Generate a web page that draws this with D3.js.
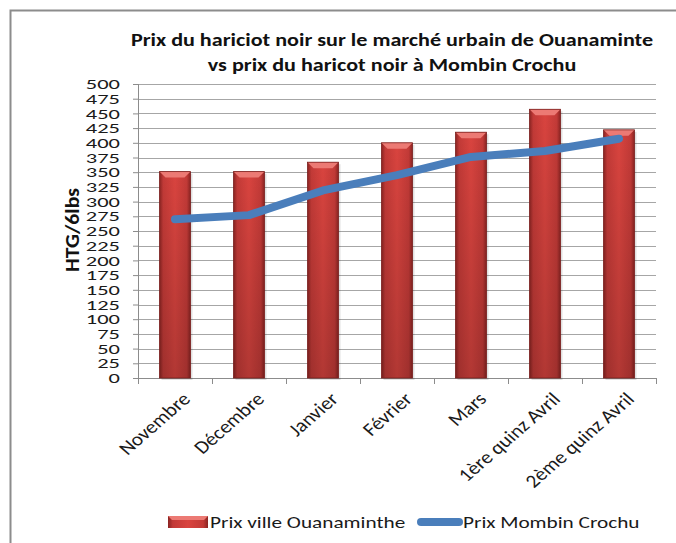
<!DOCTYPE html>
<meta charset="utf-8" />
<script src="https://d3js.org/d3.v7.min.js"></script>
<style>
  body { margin: 0; background: #fff; }
  svg { font-family: Carlito, Lato, "Open Sans", sans-serif; }
</style>
<body>
<div id="chart"></div>
</body>
<script>
  // data
  const categories = ["Novembre", "Décembre", "Janvier", "Février", "Mars", "1ère quinz Avril", "2ème quinz Avril"];
  const prixVille = [351, 351, 367, 400, 418, 457, 422];
  const prixMombin = [270, 277, 319, 345, 376, 386, 407];
  const yTicks = d3.range(0, 501, 25);
  const seriesNames = ["Prix ville Ouanaminthe", "Prix Mombin Crochu"];

  const W = 676, H = 543;
  const margin = {top: 84, right: 20, bottom: 165, left: 138};
  const width = 656 - margin.left, height = 378 - margin.top;
  const sx = 1.25; // the original picture is stretched sideways

  const root = d3.select("#chart").append("svg")
      .attr("width", W)
      .attr("height", H);

  // outer frame (left and top only show)
  root.append("path")
      .attr("d", "M10.5," + H + " V10.5 H" + W)
      .attr("fill", "none")
      .attr("stroke", "#8c8c8c")
      .attr("stroke-width", 2);

  const defs = root.append("defs");
  const gH = defs.append("linearGradient").attr("id", "barH")
      .attr("x1", "0").attr("x2", "1").attr("y1", "0").attr("y2", "0");
  [["0%", "#8a2422"], ["12%", "#c23a37"], ["50%", "#d9443f"], ["88%", "#c23a37"], ["100%", "#8a2422"]]
    .forEach(s => gH.append("stop").attr("offset", s[0]).attr("stop-color", s[1]));
  const gV = defs.append("linearGradient").attr("id", "barV")
      .attr("x1", "0").attr("x2", "0").attr("y1", "0").attr("y2", "1");
  gV.append("stop").attr("offset", "0%").attr("stop-color", "#000").attr("stop-opacity", 0);
  gV.append("stop").attr("offset", "100%").attr("stop-color", "#000").attr("stop-opacity", 0.18);

  const svg = root.append("g")
      .attr("transform", "translate(" + margin.left + "," + margin.top + ")");

  const x = d3.scaleBand().domain(categories).range([0, width]);
  const y = d3.scaleLinear().domain([0, 500]).range([height, 0]);

  // gridlines
  svg.append("g")
    .selectAll("line")
    .data(yTicks)
    .join("line")
      .attr("x1", 0).attr("x2", width)
      .attr("y1", d => Math.round(y(d)) + 0.5).attr("y2", d => Math.round(y(d)) + 0.5)
      .attr("stroke", "#a6a6a6");

  // y axis
  const yAxis = svg.append("g")
      .call(d3.axisLeft(y).tickValues(yTicks).tickSize(5).tickPadding(12));
  yAxis.select(".domain").attr("stroke", "#8c8c8c").attr("d", "M0.5,0V" + height);
  yAxis.selectAll(".tick line").attr("stroke", "#8c8c8c");
  yAxis.selectAll("text")
      .attr("x", 0)
      .attr("transform", "translate(-18,0) scale(1.55,1)")
      .attr("font-size", 14.5)
      .attr("fill", "#1a1a1a")
      .attr("font-family", "Carlito, Lato, sans-serif");

  // x axis
  const xAxis = svg.append("g")
      .attr("transform", "translate(0," + height + ")");
  xAxis.append("line").attr("x1", 0).attr("x2", width).attr("y1", 0.5).attr("y2", 0.5).attr("stroke", "#8c8c8c");
  xAxis.selectAll("line.tk")
    .data(d3.range(categories.length + 1))
    .join("line")
      .attr("class", "tk")
      .attr("x1", i => Math.round(i * x.step()) + 0.5).attr("x2", i => Math.round(i * x.step()) + 0.5)
      .attr("y1", 0).attr("y2", 6)
      .attr("stroke", "#8c8c8c");
  xAxis.selectAll("text")
    .data(categories)
    .join("text")
      .attr("transform", d => "translate(" + (x(d) + x.bandwidth() / 2 + 6) + ",13) scale(1.15,1) rotate(-45)")
      .attr("text-anchor", "end")
      .attr("dy", "0.7em")
      .attr("font-size", 18.5)
      .attr("fill", "#1a1a1a")
      .text(d => d);

  // bars
  const bw = 31;
  const bars = svg.append("g")
    .selectAll("g")
    .data(prixVille)
    .join("g")
      .attr("transform", (d, i) => "translate(" + (x(categories[i]) + x.bandwidth() / 2 - bw / 2) + ",0)");
  bars.append("rect")
      .attr("x", 2).attr("y", d => y(d) + 2)
      .attr("width", bw).attr("height", d => height - y(d))
      .attr("fill", "#000").attr("opacity", 0.12);
  bars.append("rect")
      .attr("y", d => y(d)).attr("width", bw).attr("height", d => height - y(d))
      .attr("fill", "url(#barH)");
  bars.append("rect")
      .attr("y", d => y(d)).attr("width", bw).attr("height", d => height - y(d))
      .attr("fill", "url(#barV)");
  bars.append("path")
      .attr("d", d => "M0," + y(d) + " H" + bw + " L" + (bw - 6) + "," + (y(d) + 6) + " H6 Z")
      .attr("fill", "#ec7a74");
  bars.append("rect")
      .attr("y", d => y(d)).attr("width", bw).attr("height", d => height - y(d))
      .attr("fill", "none").attr("stroke", "#7a1f1d").attr("stroke-width", 0.8);

  // line
  const line = d3.line()
      .x((d, i) => x(categories[i]) + x.bandwidth() / 2)
      .y(d => y(d));
  svg.append("path")
      .datum(prixMombin)
      .attr("d", line)
      .attr("fill", "none")
      .attr("stroke", "#4a7ebb")
      .attr("stroke-width", 8)
      .attr("stroke-linecap", "round")
      .attr("stroke-linejoin", "round");

  // y label
  root.append("text")
      .attr("transform", "translate(79,230) rotate(-90)")
      .attr("text-anchor", "middle")
      .attr("font-size", 20)
      .attr("font-weight", "bold")
      .attr("textLength", 84)
      .attr("lengthAdjust", "spacingAndGlyphs")
      .attr("fill", "#111")
      .text("HTG/6lbs");

  // title
  const title = root.append("text")
      .attr("transform", "translate(392,0) scale(" + 1.265 + ",1)")
      .attr("text-anchor", "middle")
      .attr("font-size", 17.5)
      .attr("font-weight", "bold")
      .attr("fill", "#111");
  title.append("tspan").attr("x", 0).attr("y", 46).text("Prix du hariciot noir sur le marché urbain de Ouanaminte");
  title.append("tspan").attr("x", 0).attr("y", 71).text("vs prix du haricot noir à Mombin Crochu");

  // legend
  const leg = root.append("g").attr("transform", "translate(0,522)");
  leg.append("rect").attr("x", 168).attr("y", -6).attr("width", 40).attr("height", 12).attr("fill", "url(#barH)");
  leg.append("path").attr("d", "M168,-6 H208 L204,-2 H172 Z").attr("fill", "#ec7a74");
  leg.append("text").attr("transform", "translate(210,0) scale(" + sx + ",1)")
      .attr("dy", "0.35em").attr("font-size", 17).attr("fill", "#1a1a1a").text(seriesNames[0]);
  leg.append("line").attr("x1", 421).attr("x2", 459).attr("y1", 0).attr("y2", 0)
      .attr("stroke", "#4a7ebb").attr("stroke-width", 8).attr("stroke-linecap", "round");
  leg.append("text").attr("transform", "translate(463,0) scale(" + sx + ",1)")
      .attr("dy", "0.35em").attr("font-size", 17).attr("fill", "#1a1a1a").text(seriesNames[1]);
</script>
